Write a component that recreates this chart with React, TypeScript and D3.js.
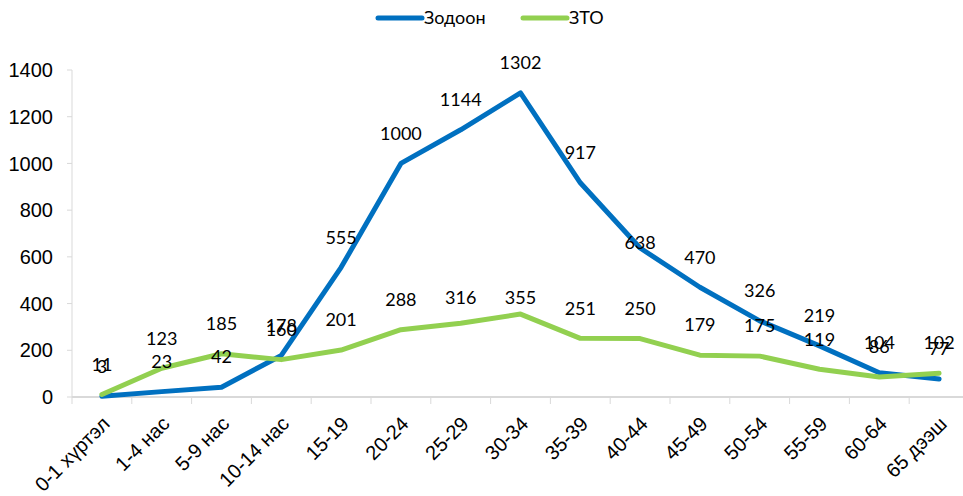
import React from "react";
import * as d3 from "d3";

const categories = [
  "0-1 хүртэл", "1-4 нас", "5-9 нас", "10-14 нас", "15-19", "20-24", "25-29",
  "30-34", "35-39", "40-44", "45-49", "50-54", "55-59", "60-64", "65 дээш",
];
const zodoon = [3, 23, 42, 178, 555, 1000, 1144, 1302, 917, 638, 470, 326, 219, 104, 77];
const zto = [11, 123, 185, 160, 201, 288, 316, 355, 251, 250, 179, 175, 119, 86, 102];
const yTicks = [0, 200, 400, 600, 800, 1000, 1200, 1400];

const seriesNames = ["Зодоон", "ЗТО"];
const colors = ["#0070C0", "#92D050"];
// per-label vertical nudges (px) mimicking the reference's hand-placed labels
const labelNudge: Record<string, number> = { "0-9": 25, "1-6": 5, "1-7": 14 };

export default function App() {
  const W = 963, H = 496;
  const left = 72, bw = 59.8;
  const x = d3.scaleBand<string>().domain(categories).range([left, left + bw * categories.length]).paddingInner(0).paddingOuter(0);
  const cx = (c: string) => (x(c) as number) + x.bandwidth() / 2;
  const y = d3.scaleLinear().domain([0, 1400]).range([397, 70]);
  const line = d3.line<number>().x((_, i) => cx(categories[i])).y((d) => y(d));
  const series = [zodoon, zto];
  const labelFont = "Lato, 'Open Sans', sans-serif";
  const axisFont = "'Liberation Sans', Arial, sans-serif";

  return (
    <div style={{ position: "fixed", left: 0, top: 0 }}>
      <svg width={W} height={H} style={{ display: "block", background: "#fff" }}>
        {/* y axis */}
        <line x1={left} x2={left} y1={y(1400)} y2={y(0)} stroke="#d9d9d9" strokeWidth={1} />
        {yTicks.map((t) => (
          <g key={t}>
            <line x1={left - 5} x2={left} y1={y(t)} y2={y(t)} stroke="#d9d9d9" />
            <text x={53} y={y(t)} dy="0.36em" textAnchor="end" fontFamily={axisFont} fontSize={20} fill="#000">{t}</text>
          </g>
        ))}
        {/* x axis */}
        <line x1={left} x2={W} y1={y(0)} y2={y(0)} stroke="#d9d9d9" strokeWidth={2} />
        {categories.map((c, i) => (
          <line key={"t" + i} x1={x(c) as number} x2={x(c) as number} y1={y(0)} y2={y(0) + 7} stroke="#d9d9d9" />
        ))}
        {categories.map((c, i) => (
          <text key={"x" + i} transform={`translate(${cx(c) - 1},${y(0) + 18}) rotate(-45)`} textAnchor="end" dy="0.71em"
            fontFamily={axisFont} fontSize={20} fill="#000">{c}</text>
        ))}
        {/* lines */}
        {series.map((s, k) => (
          <path key={"l" + k} d={line(s) as string} fill="none" stroke={colors[k]} strokeWidth={5} strokeLinejoin="round" strokeLinecap="round" />
        ))}
        {/* labels */}
        {series.map((s, k) =>
          s.map((v, i) => (
            <text key={`d${k}-${i}`} x={cx(categories[i])} y={y(v) - 30 + (labelNudge[`${k}-${i}`] || 0)} dy="0.35em" textAnchor="middle"
              fontFamily={labelFont} fontSize={18} fill="#000">{v}</text>
          ))
        )}
        {/* legend */}
        {seriesNames.map((n, k) => {
          const lx = [378, 523][k];
          return (
            <g key={"lg" + k}>
              <line x1={lx} x2={lx + 44} y1={18} y2={18} stroke={colors[k]} strokeWidth={5} strokeLinecap="round" />
              <text x={lx + 46} y={18} dy="0.35em" fontFamily={labelFont} fontSize={18} fill="#000">{n}</text>
            </g>
          );
        })}
      </svg>
    </div>
  );
}
